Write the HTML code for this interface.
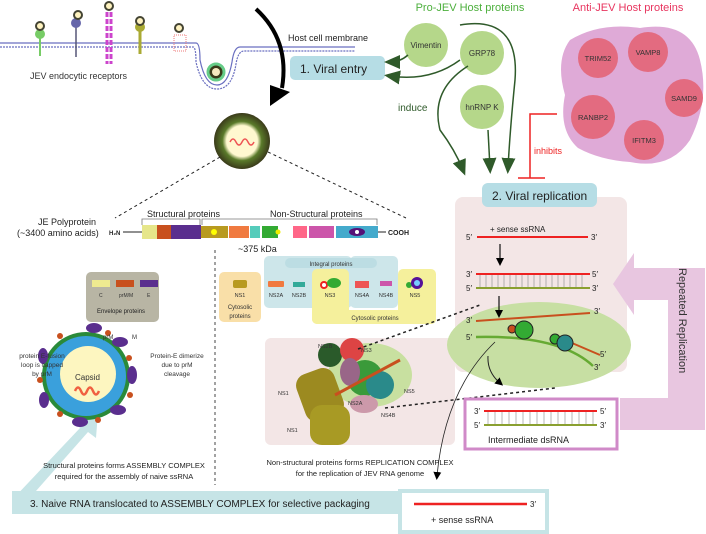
<!DOCTYPE html>
<html><head><meta charset="utf-8"><style>
body{margin:0;background:#fff}
svg{display:block;font-family:"Liberation Sans",sans-serif}
</style></head><body>
<svg width="706" height="534" viewBox="0 0 706 534" xmlns="http://www.w3.org/2000/svg">
<defs>
<marker id="ah" markerWidth="8" markerHeight="8" refX="4" refY="4" orient="auto" markerUnits="userSpaceOnUse"><path d="M0,0L8,4L0,8z" fill="#000"/></marker>
<marker id="gh" markerWidth="16" markerHeight="14" refX="10" refY="7" orient="auto" markerUnits="userSpaceOnUse"><path d="M0,0L16,7L0,14z" fill="#2f5a2a"/></marker>
<radialGradient id="vir"><stop offset="0.55" stop-color="#fff8d0"/><stop offset="0.7" stop-color="#5a7a2a"/><stop offset="1" stop-color="#3a3a1a"/></radialGradient>
</defs>
<g stroke="#6a6fc0" stroke-width="1.2" fill="none">
<path d="M0,43 H196 Q200,43 200,60 Q205,85 217,85 Q228,85 232,62 Q234,47 240,47 H355"/>
<path d="M0,47 H193 Q196,47 196,62 Q202,89 217,89 Q232,89 236,64 Q238,51 244,51 H355" stroke-dasharray="2,1"/>
</g>
<circle cx="216" cy="72" r="8" fill="#3a3a1a" stroke="#6c8" stroke-width="3"/>
<circle cx="216" cy="72" r="4" fill="#f6e9c0"/>
<g>
<line x1="40" y1="36" x2="40" y2="56" stroke="#7c6" stroke-width="2"/><circle cx="40" cy="34" r="5" fill="#7c6"/><circle cx="40" cy="26" r="4" fill="#fff3c0" stroke="#443" stroke-width="2"/>
<line x1="76" y1="24" x2="76" y2="57" stroke="#557" stroke-width="1.5"/><circle cx="76" cy="23" r="5" fill="#66a"/><circle cx="78" cy="15" r="4" fill="#fff3c0" stroke="#443" stroke-width="2"/>
<line x1="107" y1="12" x2="107" y2="64" stroke="#c4c" stroke-width="3" stroke-dasharray="5,2"/><line x1="111" y1="12" x2="111" y2="64" stroke="#c4c" stroke-width="3" stroke-dasharray="5,2"/><circle cx="109" cy="6" r="4" fill="#fff3c0" stroke="#443" stroke-width="2"/>
<line x1="140" y1="30" x2="140" y2="54" stroke="#aa3" stroke-width="3"/><circle cx="140" cy="27" r="5" fill="#aa3"/><circle cx="140" cy="21" r="4" fill="#fff3c0" stroke="#443" stroke-width="2"/>
<rect x="174" y="35" width="12" height="16" fill="none" stroke="#e77" stroke-width="1" stroke-dasharray="1,1"/><circle cx="179" cy="28" r="4" fill="#fff3c0" stroke="#443" stroke-width="2"/>
</g>
<text x="30" y="79" font-size="9" fill="#333">JEV endocytic receptors</text>
<text x="288" y="41" font-size="9" fill="#222">Host cell membrane</text>
<path d="M256,9 Q290,40 282,88" stroke="#000" stroke-width="4" fill="none"/>
<path d="M270,85 L290,92 L270,106z" fill="#000"/>
<rect x="290" y="56" width="95" height="24" rx="5" fill="#b6dde5"/>
<text x="300" y="73" font-size="12" fill="#222">1. Viral entry</text>
<circle cx="242" cy="141" r="28" fill="url(#vir)"/>
<path d="M230,142 q3,-6 6,0 q3,6 6,0 q3,-6 6,0 q3,6 6,0" stroke="#e55" stroke-width="1.5" fill="none"/>
<line x1="220" y1="157" x2="115" y2="218" stroke="#222" stroke-dasharray="3,3"/>
<line x1="268" y1="152" x2="406" y2="218" stroke="#222" stroke-dasharray="3,3"/>
<text x="38" y="225" font-size="9" fill="#222">JE Polyprotein</text>
<text x="17" y="236" font-size="9" fill="#222">(~3400 amino acids)</text>
<text x="109" y="235" font-size="6" font-weight="bold" fill="#222">H₂N</text>
<line x1="123" y1="232" x2="142" y2="232" stroke="#222"/>
<rect x="142" y="225" width="15" height="14" fill="#e6e68a"/>
<rect x="157" y="225" width="14" height="14" fill="#c8501e"/>
<rect x="171" y="225" width="30" height="14" fill="#5a2e8e"/>
<rect x="201" y="226" width="27" height="12" fill="#b89a20"/><circle cx="214" cy="232" r="3" fill="#ff0"/>
<rect x="229" y="226" width="20" height="12" fill="#f07a40"/>
<rect x="250" y="226" width="10" height="12" fill="#5cb"/>
<rect x="262" y="226" width="16" height="12" fill="#3a3"/><circle cx="278" cy="232" r="2.5" fill="#ee0"/>
<rect x="293" y="226" width="14" height="12" fill="#f68"/>
<rect x="309" y="226" width="25" height="12" fill="#c5a"/>
<rect x="336" y="226" width="42" height="12" fill="#4ac"/><ellipse cx="357" cy="232" rx="8" ry="4" fill="#517"/><circle cx="357" cy="232" r="2" fill="#fff"/>
<line x1="378" y1="232" x2="386" y2="232" stroke="#222"/>
<text x="388" y="235" font-size="7" font-weight="bold" fill="#222">COOH</text>
<path d="M142,225 V219 H200 V225 M202,225 V219 H377 V225" stroke="#777" fill="none" stroke-width="0.8"/>
<text x="147" y="217" font-size="9" fill="#222">Structural proteins</text>
<text x="270" y="217" font-size="9" fill="#222">Non-Structural proteins</text>
<text x="238" y="252" font-size="9" fill="#222">~375 kDa</text>
<rect x="86" y="272" width="73" height="50" rx="5" fill="#b8b5a4"/>
<rect x="92" y="280" width="18" height="7" fill="#eeea90"/><rect x="116" y="280" width="18" height="7" fill="#c8501e"/><rect x="140" y="280" width="18" height="7" fill="#5a2e8e"/>
<text x="99" y="297" font-size="5" fill="#333">C</text><text x="119" y="297" font-size="5" fill="#333">prM/M</text><text x="147" y="297" font-size="5" fill="#333">E</text>
<text x="97" y="313" font-size="6" fill="#222">Envelope proteins</text>
<line x1="215" y1="250" x2="215" y2="485" stroke="#444" stroke-dasharray="3,3"/>
<path d="M12,513 L12,500 L80,428 L72,420 L98,412 L96,438 L88,432 L36,491 L36,513z" fill="#c6e4e6"/>
<circle cx="86" cy="376" r="44" fill="#2a8a3a"/>
<circle cx="86" cy="376" r="40" fill="#3aa0dc"/>
<circle cx="88" cy="374" r="28" fill="#fdf6c0"/>
<g fill="#5a2e8e"><ellipse cx="120" cy="342" rx="8" ry="5"/><ellipse cx="132" cy="375" rx="5" ry="9"/><ellipse cx="118" cy="410" rx="8" ry="5"/><ellipse cx="80" cy="422" rx="8" ry="5"/><ellipse cx="44" cy="400" rx="5" ry="8"/><ellipse cx="43" cy="356" rx="5" ry="8"/><ellipse cx="94" cy="328" rx="8" ry="5"/></g>
<g fill="#c8501e"><circle cx="108" cy="333" r="3"/><circle cx="129" cy="358" r="3"/><circle cx="130" cy="395" r="3"/><circle cx="98" cy="420" r="3"/><circle cx="60" cy="414" r="3"/><circle cx="40" cy="380" r="3"/><circle cx="60" cy="336" r="3"/></g>
<text x="75" y="380" font-size="8" fill="#333">Capsid</text>
<path d="M75,391 q3,-7 6,0 q3,7 6,0 q3,-7 6,0 q3,7 6,0" stroke="#f06040" stroke-width="2.5" fill="none"/>
<text x="103" y="339" font-size="6" fill="#333">prM</text><text x="132" y="339" font-size="6" fill="#333">M</text>
<text x="42" y="358" font-size="6.5" fill="#333" text-anchor="middle">protein E-fusion</text>
<text x="42" y="367" font-size="6.5" fill="#333" text-anchor="middle">loop is capped</text>
<text x="42" y="376" font-size="6.5" fill="#333" text-anchor="middle">by prM</text>
<text x="177" y="358" font-size="6.5" fill="#333" text-anchor="middle">Protein-E dimerize</text>
<text x="177" y="367" font-size="6.5" fill="#333" text-anchor="middle">due to prM</text>
<text x="177" y="376" font-size="6.5" fill="#333" text-anchor="middle">cleavage</text>
<text x="124" y="468" font-size="7.5" fill="#222" text-anchor="middle">Structural proteins forms ASSEMBLY COMPLEX</text>
<text x="124" y="479" font-size="7.5" fill="#222" text-anchor="middle">required for the assembly of naive ssRNA</text>
<rect x="219" y="272" width="42" height="50" rx="5" fill="#f9dfa8"/>
<rect x="264" y="256" width="88" height="52" rx="5" fill="#cde6ea"/>
<rect x="350" y="256" width="48" height="52" rx="5" fill="#cde6ea"/>
<rect x="312" y="269" width="37" height="55" rx="5" fill="#f5f09c"/>
<rect x="398" y="269" width="38" height="55" rx="5" fill="#f5f09c"/>
<rect x="312" y="310" width="124" height="14" rx="5" fill="#f5f09c"/>
<rect x="285" y="258" width="92" height="10" rx="5" fill="#bcdde3"/>
<text x="331" y="266" font-size="6" fill="#333" text-anchor="middle">Integral proteins</text>
<text x="375" y="320" font-size="6" fill="#333" text-anchor="middle">Cytosolic proteins</text>
<rect x="233" y="280" width="14" height="8" rx="2" fill="#b89a20"/>
<rect x="268" y="281" width="16" height="6" rx="1" fill="#f07a40"/>
<rect x="293" y="282" width="12" height="5" fill="#3a9"/>
<circle cx="324" cy="285" r="3" fill="#fff" stroke="#e22" stroke-width="2"/><ellipse cx="334" cy="283" rx="7" ry="5" fill="#3a3"/>
<rect x="355" y="281" width="14" height="7" fill="#e55"/>
<rect x="380" y="281" width="12" height="5" fill="#c5a"/>
<circle cx="409" cy="285" r="3" fill="#3a3"/><circle cx="417" cy="283" r="6" fill="#519"/><circle cx="417" cy="283" r="3" fill="#7cf"/>
<g font-size="5.5" fill="#333" text-anchor="middle"><text x="240" y="297">NS1</text><text x="276" y="297">NS2A</text><text x="299" y="297">NS2B</text><text x="330" y="297">NS3</text><text x="362" y="297">NS4A</text><text x="386" y="297">NS4B</text><text x="415" y="297">NS5</text></g>
<text x="240" y="309" font-size="6" fill="#333" text-anchor="middle">Cytosolic</text><text x="240" y="318" font-size="6" fill="#333" text-anchor="middle">proteins</text>
<rect x="265" y="338" width="190" height="107" rx="6" fill="#f3e6e6"/>
<ellipse cx="370" cy="375" rx="42" ry="32" fill="#c8e0a0"/>
<rect x="300" y="370" width="40" height="50" rx="12" fill="#9c8a20" transform="rotate(-20 320 395)"/>
<rect x="310" y="405" width="40" height="40" rx="12" fill="#a89a24"/>
<circle cx="330" cy="355" r="12" fill="#2a5a2a"/><circle cx="352" cy="350" r="12" fill="#d44"/><circle cx="365" cy="378" r="18" fill="#3a9a3a"/><circle cx="380" cy="385" r="14" fill="#2a8a8a"/><ellipse cx="364" cy="404" rx="14" ry="9" fill="#c9a"/><ellipse cx="350" cy="372" rx="10" ry="14" fill="#968"/>
<line x1="335" y1="395" x2="400" y2="360" stroke="#c8501e" stroke-width="3"/>
<g font-size="5.5" fill="#333"><text x="318" y="348">NS2B</text><text x="361" y="352">NS3</text><text x="278" y="395">NS1</text><text x="287" y="432">NS1</text><text x="404" y="393">NS5</text><text x="381" y="417">NS4B</text><text x="348" y="405">NS2A</text></g>
<text x="360" y="465" font-size="7.5" fill="#222" text-anchor="middle">Non-structural proteins forms REPLICATION COMPLEX</text>
<text x="360" y="476" font-size="7.5" fill="#222" text-anchor="middle">for the replication of JEV RNA genome</text>
<text x="470" y="11" font-size="11" fill="#4caf3c" text-anchor="middle">Pro-JEV Host proteins</text>
<text x="628" y="11" font-size="11" fill="#e8355f" text-anchor="middle">Anti-JEV Host proteins</text>
<g fill="#b5d78a"><circle cx="426" cy="45" r="22"/><circle cx="482" cy="53" r="22"/><circle cx="482" cy="107" r="22"/></g>
<g font-size="8" fill="#333" text-anchor="middle"><text x="426" y="48">Vimentin</text><text x="482" y="56">GRP78</text><text x="482" y="110">hnRNP K</text></g>
<g stroke="#2f5a2a" stroke-width="1.5" fill="none">
<path d="M408,55 Q400,62 390,62" marker-end="url(#gh)"/>
<path d="M460,60 Q430,82 390,76" marker-end="url(#gh)"/>
<path d="M468,66 Q430,90 440,130 Q455,150 463,170" marker-end="url(#gh)"/>
<path d="M488,130 L490,168" marker-end="url(#gh)"/>
<path d="M460,25 Q520,15 515,80 Q510,130 508,168" marker-end="url(#gh)"/>
</g>
<text x="398" y="111" font-size="10" fill="#2f5a2a">induce</text>
<path d="M570,40 Q600,22 640,28 Q690,20 700,60 Q710,100 690,140 Q670,170 630,162 Q600,160 578,148 Q558,130 565,95 Q555,60 570,40z" fill="#dfaad7"/>
<g fill="#e36b80"><circle cx="598" cy="58" r="20"/><circle cx="648" cy="52" r="20"/><circle cx="684" cy="98" r="19"/><circle cx="593" cy="117" r="22"/><circle cx="644" cy="140" r="20"/></g>
<g font-size="7.5" fill="#333" text-anchor="middle"><text x="598" y="61">TRIM52</text><text x="648" y="55">VAMP8</text><text x="684" y="101">SAMD9</text><text x="593" y="120">RANBP2</text><text x="644" y="143">IFITM3</text></g>
<path d="M557,114 H530 V178 M518,178 H545" stroke="#e22" stroke-width="1.5" fill="none"/>
<text x="534" y="154" font-size="9" fill="#e22">inhibits</text>
<rect x="455" y="197" width="172" height="175" rx="8" fill="#f3e6e6"/>
<rect x="482" y="183" width="115" height="24" rx="6" fill="#b6dde5"/>
<text x="492" y="200" font-size="12" fill="#222">2. Viral replication</text>
<text x="490" y="232" font-size="8" fill="#222">+ sense ssRNA</text>
<text x="466" y="240" font-size="8" fill="#222">5′</text><line x1="477" y1="237" x2="588" y2="237" stroke="#e22" stroke-width="2"/><text x="591" y="240" font-size="8" fill="#222">3′</text>
<line x1="500" y1="244" x2="500" y2="262" stroke="#111" stroke-width="1.2" marker-end="url(#ah)"/>
<path d="M668,268 H705 V430 H620 V398 H668 V300 H634 V315 L613,284 L634,253 V268z" fill="#e8c6e0"/>
<text transform="translate(679,268) rotate(90)" font-size="11" fill="#333">Repeated Replication</text>
<text x="466" y="277" font-size="8" fill="#222">3′</text><text x="466" y="291" font-size="8" fill="#222">5′</text>
<line x1="476" y1="274" x2="590" y2="274" stroke="#e22" stroke-width="2"/><line x1="476" y1="288" x2="590" y2="288" stroke="#8aa030" stroke-width="2"/>
<path d="M480,275V287M486,275V287M492,275V287M498,275V287M504,275V287M510,275V287M516,275V287M522,275V287M528,275V287M534,275V287M540,275V287M546,275V287M552,275V287M558,275V287M564,275V287M570,275V287M576,275V287M582,275V287" stroke="#888" stroke-width="0.6"/>
<text x="592" y="277" font-size="8" fill="#222">5′</text><text x="592" y="291" font-size="8" fill="#222">3′</text>
<ellipse cx="539" cy="345" rx="92" ry="43" fill="#c7dfa3"/>
<line x1="499" y1="296" x2="499" y2="314" stroke="#111" stroke-width="1.2" marker-end="url(#ah)"/>
<line x1="476" y1="321" x2="590" y2="313" stroke="#c8501e" stroke-width="2"/>
<path d="M476,337 Q560,335 593,366" stroke="#6a3" stroke-width="2.5" fill="none"/>
<path d="M565,340 L600,355" stroke="#c8501e" stroke-width="2"/>
<circle cx="512" cy="329" r="4" fill="#c8501e" stroke="#222"/><circle cx="524" cy="330" r="9" fill="#3a3" stroke="#222"/><circle cx="555" cy="339" r="5" fill="#3a3" stroke="#222"/><circle cx="565" cy="343" r="8" fill="#2a8a8a" stroke="#222"/>
<text x="466" y="323" font-size="8" fill="#222">3′</text><text x="466" y="340" font-size="8" fill="#222">5′</text><text x="594" y="314" font-size="8" fill="#222">3′</text><text x="600" y="357" font-size="8" fill="#222">5′</text><text x="594" y="370" font-size="8" fill="#222">3′</text>
<path d="M488,356 Q487,372 500,383" stroke="#222" fill="none" marker-end="url(#ah)"/>
<path d="M495,342 Q445,390 437,476" stroke="#222" fill="none" stroke-width="0.8" marker-end="url(#ah)"/>
<line x1="358" y1="349" x2="480" y2="305" stroke="#222" stroke-width="1.5" stroke-dasharray="3,3"/>
<line x1="385" y1="408" x2="555" y2="388" stroke="#222" stroke-width="1.5" stroke-dasharray="3,3"/>
<rect x="465" y="399" width="152" height="50" fill="#fff" stroke="#d08ac8" stroke-width="3"/>
<text x="474" y="414" font-size="8" fill="#222">3′</text><text x="474" y="428" font-size="8" fill="#222">5′</text>
<line x1="484" y1="411" x2="597" y2="411" stroke="#e22" stroke-width="2"/><line x1="484" y1="425" x2="597" y2="425" stroke="#8aa030" stroke-width="2"/>
<path d="M488,412V424M495,412V424M502,412V424M509,412V424M516,412V424M523,412V424M530,412V424M537,412V424M544,412V424M551,412V424M558,412V424M565,412V424M572,412V424M579,412V424M586,412V424M593,412V424" stroke="#888" stroke-width="0.6"/>
<text x="600" y="414" font-size="8" fill="#222">5′</text><text x="600" y="428" font-size="8" fill="#222">3′</text>
<text x="488" y="443" font-size="9" fill="#222">Intermediate dsRNA</text>
<rect x="12" y="491" width="388" height="23" fill="#c6e4e6"/>
<text x="30" y="507" font-size="10" fill="#222">3.  Naive RNA translocated to ASSEMBLY COMPLEX for selective packaging</text>
<rect x="400" y="491" width="147" height="41" fill="#fff" stroke="#c6e4e6" stroke-width="4"/>
<line x1="414" y1="504" x2="527" y2="504" stroke="#e22" stroke-width="2.5"/>
<text x="530" y="507" font-size="8" fill="#222">3′</text>
<text x="431" y="523" font-size="9" fill="#222">+ sense ssRNA</text>
</svg>
</body></html>
